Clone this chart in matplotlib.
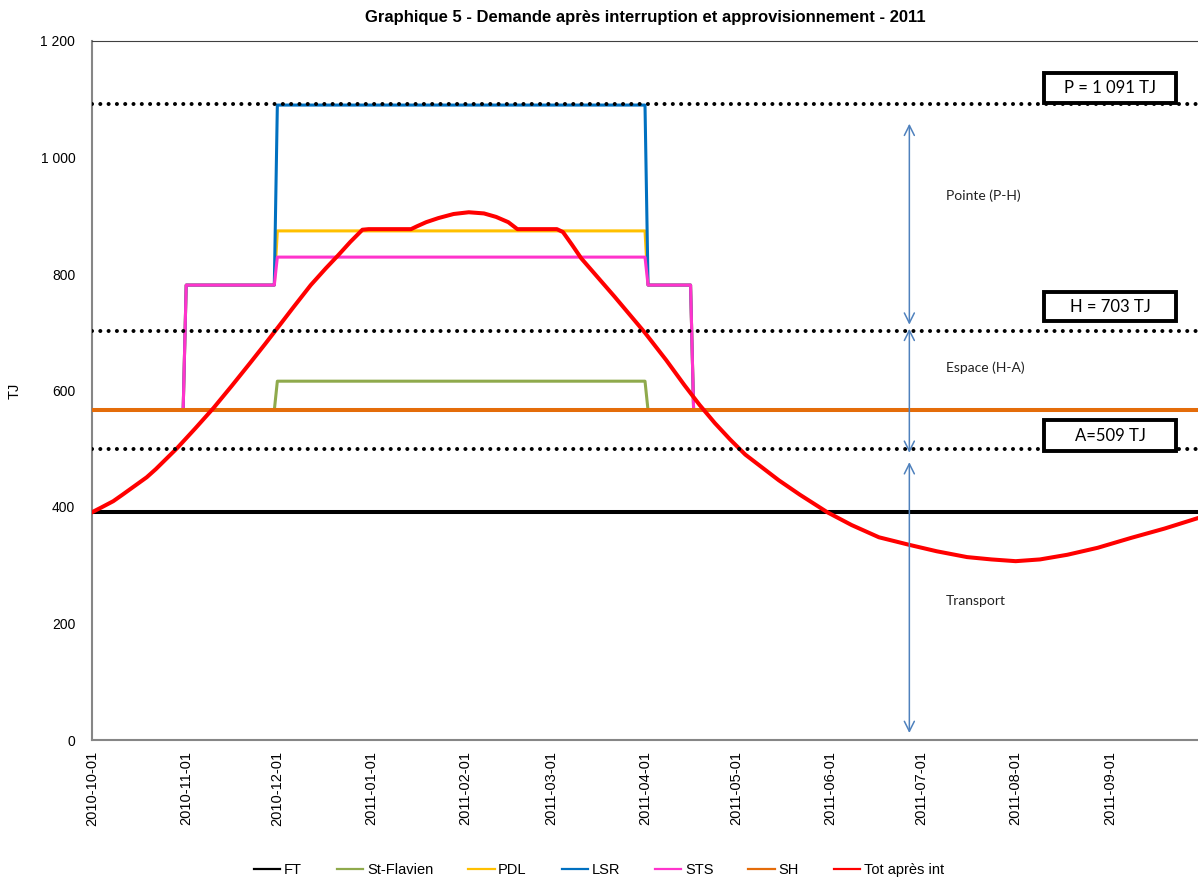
import matplotlib
matplotlib.use("Agg")
import matplotlib.pyplot as plt
import matplotlib.dates as mdates
from matplotlib.ticker import FuncFormatter
import pandas as pd

# --- donnees (TJ) ---
ft_dates = ["2010-10-01", "2011-09-30"]
ft_vals = [391, 391]

sh_dates = ["2010-10-01", "2011-09-30"]
sh_vals = [566, 566]

stf_dates = ["2010-10-01", "2010-11-30", "2010-12-01", "2011-04-01", "2011-04-02", "2011-09-30"]
stf_vals = [566, 566, 616, 616, 566, 566]

pdl_dates = ["2010-10-01", "2010-10-31", "2010-11-01", "2010-11-30", "2010-12-01",
             "2011-04-01", "2011-04-02", "2011-04-16", "2011-04-17", "2011-09-30"]
pdl_vals = [566, 566, 781, 781, 874, 874, 781, 781, 566, 566]

lsr_dates = ["2010-10-01", "2010-10-31", "2010-11-01", "2010-11-30", "2010-12-01",
             "2011-04-01", "2011-04-02", "2011-04-16", "2011-04-17", "2011-09-30"]
lsr_vals = [566, 566, 781, 781, 1090, 1090, 781, 781, 566, 566]

sts_dates = ["2010-10-01", "2010-10-31", "2010-11-01", "2010-11-30", "2010-12-01",
             "2011-04-01", "2011-04-02", "2011-04-16", "2011-04-17", "2011-09-30"]
sts_vals = [566, 566, 781, 781, 829, 829, 781, 781, 566, 566]

tot_dates = ["2010-10-01", "2010-10-04", "2010-10-08", "2010-10-11", "2010-10-15",
             "2010-10-19", "2010-10-22", "2010-10-29", "2010-11-04", "2010-11-10",
             "2010-11-16", "2010-11-22", "2010-11-27", "2010-12-01", "2010-12-06",
             "2010-12-12", "2010-12-17", "2010-12-21", "2010-12-25", "2010-12-29",
             "2010-12-31", "2011-01-14", "2011-01-16", "2011-01-19", "2011-01-23",
             "2011-01-28", "2011-02-02", "2011-02-07", "2011-02-11", "2011-02-15",
             "2011-02-18", "2011-03-03", "2011-03-05", "2011-03-08", "2011-03-11",
             "2011-03-17", "2011-03-22", "2011-03-27", "2011-04-01", "2011-04-08",
             "2011-04-14", "2011-04-19", "2011-04-24", "2011-04-29", "2011-05-04",
             "2011-05-10", "2011-05-15", "2011-05-22", "2011-05-31", "2011-06-08",
             "2011-06-17", "2011-06-27", "2011-07-06", "2011-07-16", "2011-07-24",
             "2011-08-01", "2011-08-09", "2011-08-18", "2011-08-28", "2011-09-08",
             "2011-09-19", "2011-09-30"]
tot_vals = [391, 399, 410, 421, 436,
            451, 465, 501, 535, 570,
            608, 647, 680, 707, 741,
            781, 810, 832, 855, 876,
            877, 877, 882, 889, 896,
            903, 906, 904, 898, 889,
            877, 877, 872, 850, 827,
            791, 761, 730, 699, 652,
            609, 575, 544, 516, 490,
            466, 446, 421, 391, 369,
            348, 335, 324, 314, 310,
            307, 310, 318, 330, 347,
            363, 381]

niveaux = [1091, 703, 500]
boites = ["P = 1 091 TJ", "H = 703 TJ", "A=509 TJ"]

tick_dates = pd.date_range("2010-10-01", "2011-09-01", freq="MS")

series = [
    ("FT", ft_dates, ft_vals, "black", 2.9),
    ("St-Flavien", stf_dates, stf_vals, "#8FAA4C", 2.2),
    ("PDL", pdl_dates, pdl_vals, "#FFC000", 2.2),
    ("LSR", lsr_dates, lsr_vals, "#0070C0", 2.2),
    ("STS", sts_dates, sts_vals, "#FF33CC", 2.2),
    ("SH", sh_dates, sh_vals, "#E46C0A", 2.9),
    ("Tot après int", tot_dates, tot_vals, "#FF0000", 2.9),
]

plt.rcParams["font.family"] = ["Liberation Sans", "DejaVu Sans"]

fig = plt.figure(figsize=(11.98, 8.80), dpi=100)
ax = fig.add_axes([92 / 1198, 1 - 740 / 880, 1106 / 1198, 699 / 880])

for nom, d, v, c, lw in series:
    ax.plot(pd.to_datetime(d), v, color=c, lw=lw, label=nom, zorder=3,
            solid_joinstyle="round")

for n in niveaux:
    ax.axhline(n, color="black", lw=2.9, linestyle=(0, (0.01, 2.05)),
               dash_capstyle="round", zorder=4)

ax.set_xlim(pd.Timestamp("2010-10-01"), pd.Timestamp("2011-09-30"))
ax.set_ylim(0, 1200)
ax.set_yticks(range(0, 1201, 200))
ax.yaxis.set_major_formatter(FuncFormatter(lambda v, p: f"{int(v):,}".replace(",", " ")))
ax.set_xticks(tick_dates)
ax.xaxis.set_major_formatter(mdates.DateFormatter("%Y-%m-%d"))
ax.tick_params(axis="x", labelrotation=90, length=0, pad=8, labelsize=10.5)
ax.tick_params(axis="y", length=0, pad=12, labelsize=10)
ax.set_ylabel("TJ", fontsize=10.5)
ax.yaxis.set_label_coords(-0.0633, 0.5)

for s in ["left", "bottom"]:
    ax.spines[s].set_color("#868686")
    ax.spines[s].set_linewidth(1.5)
ax.spines["top"].set_color("#404040")
ax.spines["top"].set_linewidth(0.8)
ax.spines["right"].set_visible(False)

ax.set_title("Graphique 5 - Demande après interruption et approvisionnement - 2011",
             fontsize=12, fontweight="bold", pad=14)

# boites P / H / A
box_y = [(0.9113, 0.0429), (0.5994, 0.0415), (0.4134, 0.0444)]
for txt, (y0, h) in zip(boites, box_y):
    ax.add_patch(plt.Rectangle((0.861, y0), 0.1193, h, transform=ax.transAxes,
                               fill=True, facecolor="white", edgecolor="black",
                               lw=2.8, zorder=6, clip_on=False))
    ax.text(0.861 + 0.1193 / 2, y0 + h / 2, txt, transform=ax.transAxes,
            ha="center", va="center", fontsize=12, family=["Lato", "DejaVu Sans"], zorder=7)

# fleches
xa = pd.Timestamp("2011-06-27")
for y1, y2 in [(1058, 713), (706, 493), (477, 12)]:
    ax.annotate("", xy=(xa, y2), xytext=(xa, y1),
                arrowprops=dict(arrowstyle="<->", color="#4F81BD", lw=1.1,
                                mutation_scale=18, shrinkA=0, shrinkB=0), zorder=5)

xt = pd.Timestamp("2011-07-09")
for txt, y in [("Pointe (P-H)", 934), ("Espace (H-A)", 639), ("Transport", 239)]:
    ax.text(xt, y, txt, ha="left", va="center", fontsize=10,
            family=["Lato", "DejaVu Sans"], color="#222222")

leg = fig.legend(loc="lower center", bbox_to_anchor=(0.5, -0.012), ncol=7, frameon=False,
                 fontsize=10.5, handlelength=1.8, columnspacing=2.4, handletextpad=0.25)
for ln in leg.get_lines():
    ln.set_linewidth(1.6)

fig.savefig("out.png", dpi=100)
